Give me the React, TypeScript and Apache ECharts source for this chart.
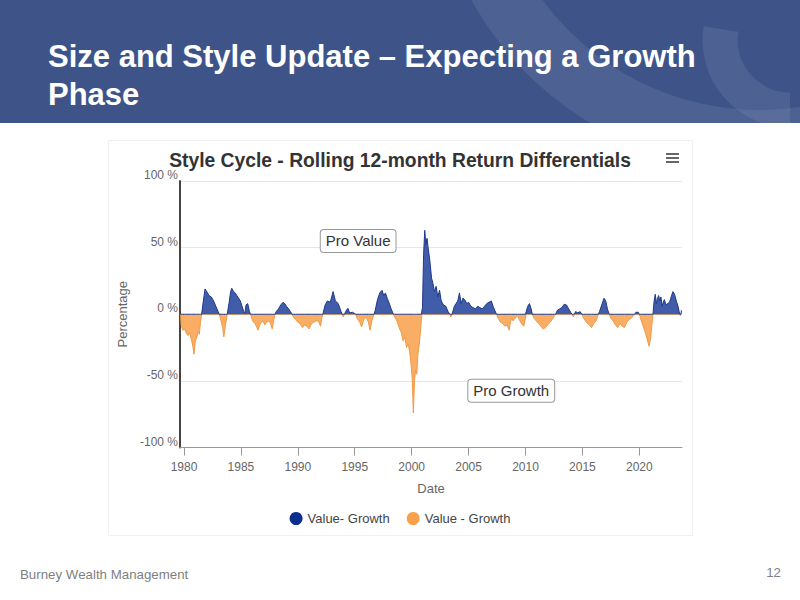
import React, { useEffect, useRef } from "react";
import * as echarts from "echarts";

// Rolling 12-month return differential (Value minus Growth), % — [decimal year, value]
const differential: [number, number][] = [
  [1979.7, 0], [1979.75, -8], [1979.9, -12], [1980.05, -11], [1980.2, -14], [1980.35, -16],
  [1980.5, -14], [1980.65, -19], [1980.78, -24], [1980.88, -30], [1981.0, -20], [1981.1, -18],
  [1981.25, -13], [1981.35, -15], [1981.45, -6], [1981.55, 0], [1981.7, 10], [1981.85, 19],
  [1982.0, 17], [1982.2, 14], [1982.4, 13], [1982.6, 10], [1982.8, 6], [1983.0, 2], [1983.1, 0],
  [1983.25, -5], [1983.4, -10], [1983.5, -17], [1983.65, -8], [1983.8, 0], [1983.95, 8],
  [1984.1, 17], [1984.2, 19.5], [1984.35, 17], [1984.5, 16], [1984.65, 14], [1984.8, 12],
  [1984.95, 10], [1985.1, 6], [1985.25, 2], [1985.35, 1], [1985.45, 7], [1985.6, 8], [1985.75, 2],
  [1985.85, 0], [1985.95, -3], [1986.1, -6], [1986.25, -7], [1986.4, -10], [1986.5, -12],
  [1986.65, -8], [1986.8, -6], [1986.95, -5], [1987.1, -8], [1987.25, -6], [1987.45, -5],
  [1987.6, -7], [1987.75, -11], [1987.9, -4], [1988.0, 0], [1988.1, 2], [1988.3, 4], [1988.5, 7],
  [1988.7, 9], [1988.85, 8], [1989.0, 6], [1989.2, 4], [1989.35, 2], [1989.5, 0], [1989.6, -2],
  [1989.8, -4], [1990.0, -6], [1990.2, -7], [1990.4, -10], [1990.6, -8], [1990.8, -9],
  [1991.0, -11], [1991.2, -7], [1991.4, -6], [1991.6, -5], [1991.8, -5], [1992.0, -9],
  [1992.1, -3], [1992.2, 0], [1992.4, 7], [1992.6, 10], [1992.85, 9], [1993.1, 17], [1993.3, 10],
  [1993.55, 8], [1993.8, 2], [1993.9, 0], [1994.0, -2], [1994.1, 0], [1994.2, 2], [1994.4, 4.5],
  [1994.55, 1], [1994.8, 1.5], [1995.0, 0.5], [1995.1, 0], [1995.2, -3], [1995.45, -6],
  [1995.6, -9.5], [1995.8, -4], [1996.0, -2], [1996.2, -6], [1996.35, -12], [1996.5, -5],
  [1996.7, 0], [1996.8, 3], [1997.0, 11], [1997.2, 16], [1997.4, 18], [1997.55, 14], [1997.7, 16],
  [1997.85, 12], [1998.0, 9], [1998.2, 4], [1998.4, 0], [1998.5, -2], [1998.7, -5], [1998.9, -10],
  [1999.1, -14], [1999.25, -20], [1999.4, -17], [1999.55, -25], [1999.7, -22], [1999.85, -30],
  [1999.95, -38], [2000.05, -48], [2000.15, -74], [2000.25, -50], [2000.35, -42], [2000.45, -45],
  [2000.55, -30], [2000.7, -20], [2000.85, -5], [2000.9, 0], [2000.95, 5], [2001.05, 45],
  [2001.15, 63], [2001.25, 52], [2001.35, 57], [2001.45, 50], [2001.6, 40], [2001.75, 27],
  [2001.85, 24], [2002.0, 17], [2002.15, 21], [2002.3, 13], [2002.45, 18], [2002.6, 10],
  [2002.8, 7], [2003.0, 6], [2003.2, 2], [2003.35, 0], [2003.45, -2], [2003.55, 0], [2003.75, 6],
  [2003.9, 8], [2004.05, 10], [2004.2, 16], [2004.35, 8], [2004.5, 12], [2004.65, 11],
  [2004.85, 8], [2005.0, 9], [2005.2, 6], [2005.4, 5], [2005.6, 4], [2005.8, 6], [2006.0, 5],
  [2006.2, 4], [2006.4, 6], [2006.6, 8], [2006.8, 9], [2007.0, 10], [2007.15, 6], [2007.3, 3],
  [2007.45, 0], [2007.6, -3], [2007.8, -6], [2008.0, -7], [2008.2, -9], [2008.4, -8],
  [2008.55, -12], [2008.7, -5], [2008.8, -3], [2008.9, -5], [2009.1, -3], [2009.3, -1],
  [2009.45, -4], [2009.65, -7], [2009.85, -9], [2010.0, -3], [2010.05, 0], [2010.2, 6],
  [2010.35, 8], [2010.5, 4], [2010.6, 0], [2010.75, -3], [2010.95, -5], [2011.15, -7],
  [2011.35, -9], [2011.55, -11], [2011.75, -10], [2011.95, -8], [2012.15, -6], [2012.35, -4],
  [2012.55, -1], [2012.65, 0], [2012.8, 3], [2013.0, 4], [2013.2, 5], [2013.4, 7.5], [2013.6, 7],
  [2013.8, 4], [2014.0, 1], [2014.1, 0], [2014.2, -2], [2014.3, 0], [2014.4, 2], [2014.6, 1],
  [2014.8, 2], [2014.95, 0], [2015.1, -3], [2015.35, -6], [2015.6, -8], [2015.8, -10],
  [2016.0, -7], [2016.2, -5], [2016.4, 0], [2016.5, 2], [2016.7, 7], [2016.9, 12], [2017.05, 10],
  [2017.2, 4], [2017.35, 0], [2017.5, -3], [2017.7, -5], [2017.9, -8], [2018.1, -10], [2018.3, -7],
  [2018.5, -9], [2018.7, -10], [2018.9, -6], [2019.1, -4], [2019.3, -3], [2019.5, -1], [2019.6, 0],
  [2019.7, 1.5], [2019.9, 1.5], [2020.0, 0], [2020.1, -3], [2020.3, -8], [2020.5, -13],
  [2020.7, -19], [2020.85, -24], [2021.0, -18], [2021.1, -8], [2021.2, 0], [2021.3, 10],
  [2021.4, 15], [2021.5, 8], [2021.6, 12], [2021.7, 14], [2021.8, 10], [2021.9, 13], [2022.0, 6],
  [2022.1, 9], [2022.2, 11], [2022.35, 7], [2022.5, 8], [2022.65, 9], [2022.8, 13], [2022.95, 17],
  [2023.1, 15], [2023.25, 10], [2023.4, 6], [2023.5, 2], [2023.55, 0], [2023.6, -1], [2023.65, 0],
  [2023.7, 3],
];

const yearTicks = [1980, 1985, 1990, 1995, 2000, 2005, 2010, 2015, 2020];
const seriesNames = ["Value- Growth", "Value - Growth"];
const annotations: { text: string; at: [number, number] }[] = [
  { text: "Pro Value", at: [1995.3, 55] },
  { text: "Pro Growth", at: [2008.75, -57.5] },
];

const FONT = '"Liberation Sans", Arial, sans-serif';

export default function App() {
  const ref = useRef<HTMLDivElement>(null);

  useEffect(() => {
    if (!ref.current) return;
    const chart = echarts.init(ref.current, undefined, { renderer: "svg" });

    const positive = differential.map(([d, v]) => [d, v > 0 ? v : 0]);
    const negative = differential.map(([d, v]) => [d, v < 0 ? v : 0]);

    chart.setOption({
      animation: false,
      backgroundColor: "#ffffff",
      textStyle: { fontFamily: FONT },
      title: {
        text: "Style Cycle - Rolling 12-month Return Differentials",
        left: "center",
        top: 146,
        textStyle: { fontSize: 19.3, fontWeight: "bold", color: "#333333", fontFamily: FONT },
      },
      legend: {
        left: "center",
        top: 507,
        icon: "circle",
        itemWidth: 13,
        itemHeight: 13,
        itemGap: 17,
        textStyle: { fontSize: 13, color: "#444444", fontFamily: FONT },
        data: seriesNames,
      },
      grid: { left: 180, right: 118, top: 181, bottom: 152.5, containLabel: false },
      xAxis: {
        type: "value",
        min: 1979.65,
        max: 2023.75,
        name: "Date",
        nameLocation: "middle",
        nameGap: 34,
        nameTextStyle: { color: "#666666", fontSize: 13, fontFamily: FONT },
        axisLine: { show: true, onZero: false, lineStyle: { color: "#999999", width: 1 } },
        axisTick: { show: true, length: 8, customValues: yearTicks, lineStyle: { color: "#999999" } },
        axisLabel: {
          customValues: yearTicks,
          color: "#666666",
          fontSize: 12,
          margin: 13,
          formatter: (v: number) => String(v),
        },
        splitLine: { show: false },
      },
      yAxis: {
        type: "value",
        min: -100,
        max: 100,
        interval: 50,
        name: "Percentage",
        nameLocation: "middle",
        nameGap: 50,
        nameRotate: 90,
        nameTextStyle: { color: "#666666", fontSize: 13, fontFamily: FONT },
        axisLine: { show: true, lineStyle: { color: "#444444", width: 2 } },
        axisTick: { show: false },
        axisLabel: {
          color: "#666666",
          fontSize: 12,
          margin: 2,
          verticalAlign: "bottom",
          formatter: (v: number) => `${v} %`,
        },
        splitLine: { show: true, lineStyle: { color: "#e6e6e6", width: 1 } },
      },
      series: [
        {
          name: seriesNames[0],
          type: "line",
          data: positive,
          showSymbol: false,
          color: "#0b2e8f",
          lineStyle: { color: "#1d3a8a", width: 1 },
          areaStyle: { color: "#0b2e8f", opacity: 0.78 },
          z: 3,
        },
        {
          name: seriesNames[1],
          type: "line",
          data: negative,
          showSymbol: false,
          color: "#f9a04a",
          lineStyle: { color: "#f29a45", width: 1 },
          areaStyle: { color: "#f9a04a", opacity: 0.85 },
          z: 2,
        },
      ],
    });

    const annGraphics = annotations.map((a) => {
      const p = chart.convertToPixel({ gridIndex: 0 }, a.at) as number[];
      return {
        type: "text",
        x: p[0],
        y: p[1],
        z: 10,
        style: {
          text: a.text,
          font: `15px ${FONT}`,
          fill: "#333333",
          align: "center",
          verticalAlign: "middle",
          backgroundColor: "#ffffff",
          borderColor: "#999999",
          borderWidth: 1,
          borderRadius: 3,
          padding: [4, 5, 3, 5],
        },
      };
    });

    chart.setOption({
      graphic: [
        { type: "rect", shape: { x: 0, y: 0, width: 800, height: 123 }, style: { fill: "#3e5489" }, z: -1 },
        {
          type: "arc",
          shape: { cx: 760, cy: -160, r: 300, startAngle: Math.PI * 0.45, endAngle: Math.PI * 0.95 },
          style: { stroke: "rgba(255,255,255,0.08)", lineWidth: 60, fill: "none" },
          z: -1,
        },
        {
          type: "arc",
          shape: { cx: 790, cy: 40, r: 70, startAngle: Math.PI * 0.5, endAngle: Math.PI * 1.05 },
          style: { stroke: "rgba(255,255,255,0.08)", lineWidth: 35, fill: "none" },
          z: -1,
        },
        {
          type: "rect",
          shape: { x: 0, y: 123, width: 800, height: 40 },
          style: { fill: "#ffffff" },
          z: -1,
        },
        {
          type: "rect",
          shape: { x: 108.5, y: 140.5, width: 584, height: 395 },
          style: { fill: "none", stroke: "#f0f0f0", lineWidth: 1 },
          z: -1,
        },
        {
          type: "text",
          x: 48,
          y: 56,
          style: {
            text: "Size and Style Update – Expecting a Growth",
            font: `bold 31px ${FONT}`,
            fill: "#ffffff",
            verticalAlign: "middle",
          },
        },
        {
          type: "text",
          x: 48,
          y: 94,
          style: { text: "Phase", font: `bold 31px ${FONT}`, fill: "#ffffff", verticalAlign: "middle" },
        },
        { type: "rect", shape: { x: 666, y: 153, width: 13, height: 2 }, style: { fill: "#666666" } },
        { type: "rect", shape: { x: 666, y: 157, width: 13, height: 2 }, style: { fill: "#666666" } },
        { type: "rect", shape: { x: 666, y: 161, width: 13, height: 2 }, style: { fill: "#666666" } },
        {
          type: "text",
          x: 20,
          y: 574,
          style: { text: "Burney Wealth Management", font: `13.3px ${FONT}`, fill: "#7f7f7f", verticalAlign: "middle" },
        },
        {
          type: "text",
          x: 781,
          y: 572,
          style: { text: "12", font: `13.3px ${FONT}`, fill: "#7f7f7f", align: "right", verticalAlign: "middle" },
        },
        ...annGraphics,
      ],
    });

    return () => chart.dispose();
  }, []);

  return (
    <div
      ref={ref}
      style={{ position: "fixed", left: 0, top: 0, width: 800, height: 600, background: "#ffffff" }}
    />
  );
}
